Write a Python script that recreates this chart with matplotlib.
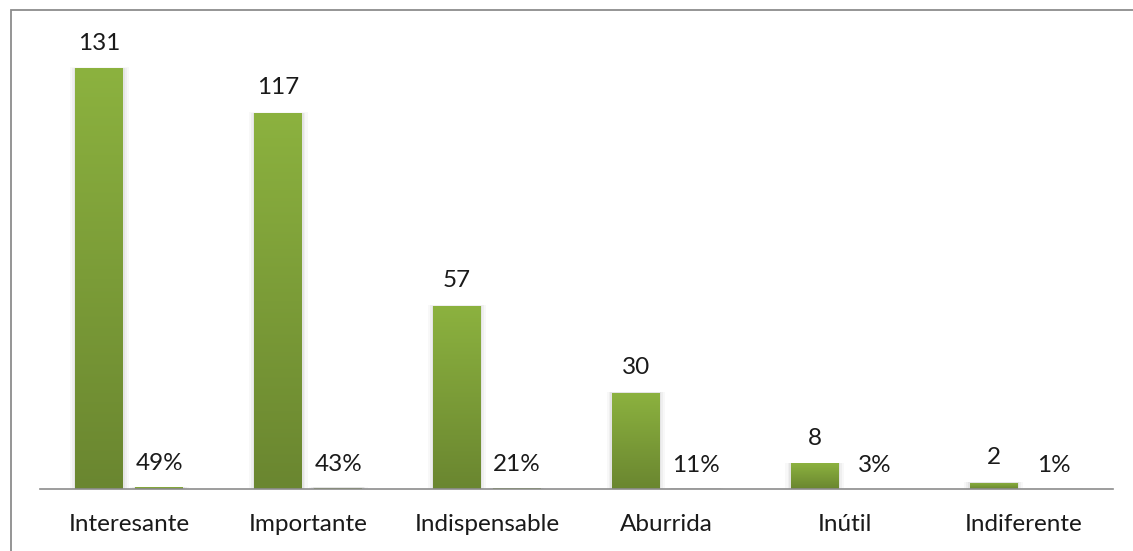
import numpy as np
import matplotlib
matplotlib.use("Agg")
import matplotlib.pyplot as plt
from matplotlib.colors import LinearSegmentedColormap
from matplotlib.patches import Rectangle

categories = ["Interesante", "Importante", "Indispensable", "Aburrida", "Inútil", "Indiferente"]
counts = [131, 117, 57, 30, 8, 2]
percents = [49, 43, 21, 11, 3, 1]

W, H = 1133, 551
fig = plt.figure(figsize=(W / 100, H / 100), dpi=100)
plt.rcParams['font.family'] = ['Lato', 'DejaVu Sans']

# outer border (only left/top visible)
fig.patches.append(Rectangle((11 / W, -0.1), 1.2, 1 - 10 / H + 0.1, transform=fig.transFigure,
                             fill=False, edgecolor="#8c8c8c", linewidth=1.3))

ymax = 140
base_px = 489
px_per_unit = (489 - 68) / 131
top_px = base_px - ymax * px_per_unit
ax = fig.add_axes([40 / W, 1 - base_px / H, (1113 - 40) / W, (base_px - top_px) / H])
ax.set_xlim(-0.5, len(categories) - 0.5)
ax.set_ylim(0, ymax)
for s in ["top", "right", "left"]:
    ax.spines[s].set_visible(False)
ax.spines["bottom"].set_color("#8c8c8c")
ax.spines["bottom"].set_linewidth(1.2)
ax.set_yticks([])
ax.set_xticks(range(len(categories)))
FS = 17.5
ax.set_xticklabels(categories, fontsize=FS, color="#1a1a1a")
ax.tick_params(axis="x", length=0, pad=18)
ax.patch.set_alpha(0)

cmap = LinearSegmentedColormap.from_list("g", ["#6a8630", "#8cb23f"])
grad = np.linspace(0, 1, 256).reshape(-1, 1)

bw = 0.268
off = 0.168
x = np.arange(len(categories))

def gradient_bar(xc, h):
    # shadow
    for k, a in [(0.03, 0.05), (0.018, 0.07), (0.008, 0.09)]:
        ax.add_patch(Rectangle((xc - bw / 2 - k, 0), bw + 2 * k, h + k * 6,
                               facecolor="#808080", edgecolor="none", alpha=a, zorder=1))
    rect = Rectangle((xc - bw / 2, 0), bw, h, facecolor="none", edgecolor="none", zorder=2)
    ax.add_patch(rect)
    im = ax.imshow(grad, cmap=cmap, aspect="auto", origin="lower",
                   extent=(xc - bw / 2, xc + bw / 2, 0, h), zorder=2)
    im.set_clip_path(rect)

for i in range(len(categories)):
    gradient_bar(x[i] - off, counts[i])
    gradient_bar(x[i] + off, percents[i] / 100)
    ax.annotate(f"{counts[i]}", (x[i] - off, counts[i]), xytext=(0, 18), textcoords="offset points",
                ha="center", va="center", fontsize=FS, color="#1a1a1a")
    ax.annotate(f"{percents[i]}%", (x[i] + off, percents[i] / 100), xytext=(0, 17), textcoords="offset points",
                ha="center", va="center", fontsize=FS, color="#1a1a1a")

ax.set_xlim(-0.5, len(categories) - 0.5)
ax.set_ylim(0, ymax)
fig.savefig("out.png", dpi=100)
